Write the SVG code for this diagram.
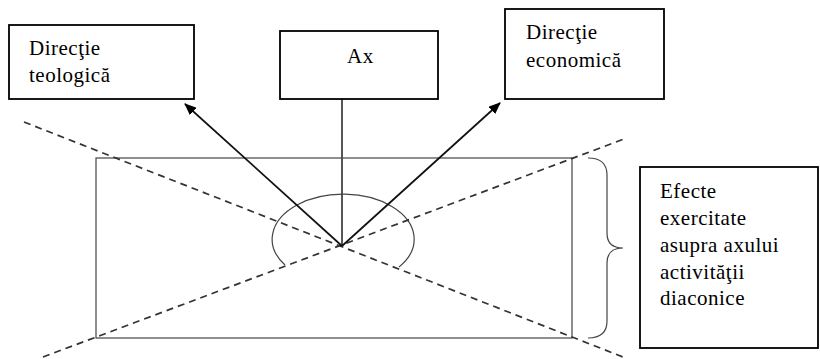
<svg xmlns="http://www.w3.org/2000/svg" width="820" height="359" viewBox="0 0 820 359">
<defs>
<style>
.box{fill:#fff;stroke:#000;stroke-width:1.8}
.t{font-family:"Liberation Serif","Times New Roman",serif;font-size:21px;letter-spacing:0.5px;fill:#000}
.dash{fill:none;stroke:#333;stroke-width:1.7;stroke-dasharray:7,5}
.arr{fill:none;stroke:#111;stroke-width:1.7;marker-end:url(#ah)}
.thin{fill:none;stroke:#444;stroke-width:1.2}
</style>
<marker id="ah" markerWidth="12" markerHeight="10" refX="11" refY="5" orient="auto" markerUnits="userSpaceOnUse">
<path d="M0,0 L12,5 L0,10 Z" fill="#000"/>
</marker>
</defs>
<rect width="820" height="359" fill="#fff"/>
<g id="area">
<rect x="96" y="158" width="476" height="180" class="thin"/>
<path d="M285 265 A71 45 0 1 1 399 267" class="thin" stroke="#555"/>
<path d="M588 158 Q607 158 607 175 L607 233 Q607 248 623 248 Q607 248 607 263 L607 321 Q607 338 588 338" class="thin"/>
</g>
<g id="connectors">
<line x1="24" y1="122" x2="623" y2="357" class="dash"/>
<line x1="43" y1="357" x2="624" y2="139" class="dash"/>
<line x1="342" y1="99" x2="342" y2="247" stroke="#444" stroke-width="1.8"/>
<line x1="342" y1="246" x2="185" y2="104" class="arr"/>
<line x1="342" y1="246" x2="500" y2="103" class="arr"/>
</g>
<g id="teologica">
<rect x="9" y="25" width="185" height="74" class="box"/>
<text class="t" x="29" y="55">Direcţie</text>
<text class="t" x="29" y="82">teologică</text>
</g>
<g id="ax">
<rect x="280" y="31" width="158" height="68" class="box"/>
<text class="t" x="347" y="63">Ax</text>
</g>
<g id="economica">
<rect x="505" y="9" width="159" height="90" class="box"/>
<text class="t" x="526" y="39">Direcţie</text>
<text class="t" x="526" y="67">economică</text>
</g>
<g id="efecte">
<rect x="640" y="167" width="178" height="181" class="box"/>
<text class="t" x="660" y="198">Efecte</text>
<text class="t" x="660" y="225">exercitate</text>
<text class="t" x="660" y="252">asupra axului</text>
<text class="t" x="660" y="279">activităţii</text>
<text class="t" x="660" y="305">diaconice</text>
</g>
</svg>
